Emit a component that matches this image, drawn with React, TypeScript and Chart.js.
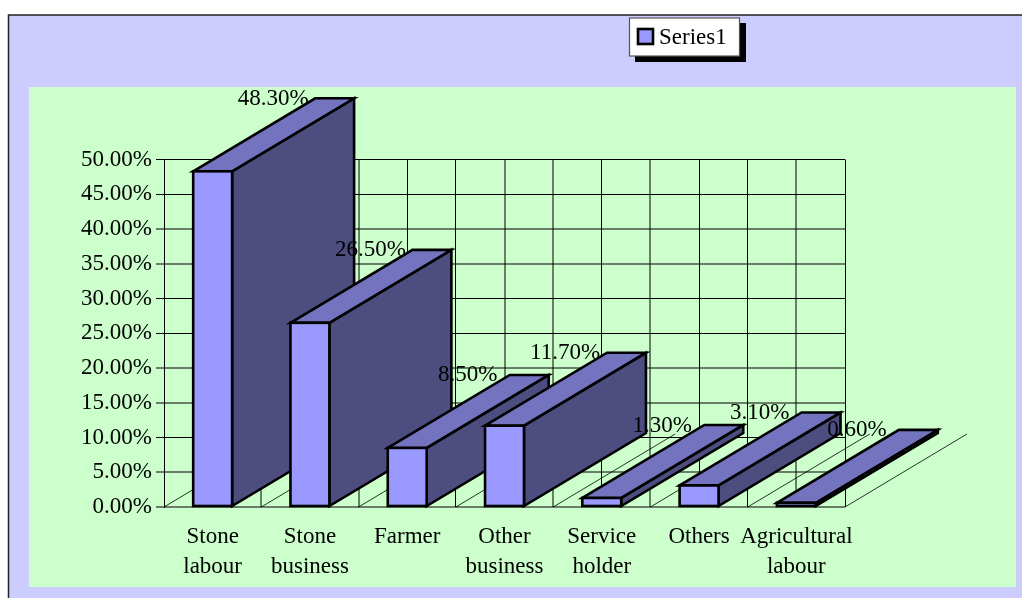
import React, { useEffect, useRef } from "react";
import { Chart, registerables } from "chart.js";

Chart.register(...registerables);

const categories = [
  ["Stone", "labour"],
  ["Stone", "business"],
  "Farmer",
  ["Other", "business"],
  ["Service", "holder"],
  "Others",
  ["Agricultural", "labour"],
];
const seriesName = "Series1";
const seriesValues = [0.483, 0.265, 0.085, 0.117, 0.013, 0.031, 0.006];
const valueLabels = ["48.30%", "26.50%", "8.50%", "11.70%", "1.30%", "3.10%", "0.60%"];

const FONT = '"Liberation Serif", "Times New Roman", serif';
const FONT_SIZE = 23;
const DEPTH_X = 122;
const DEPTH_Y = 73;
const FRONT = "#9999FF";
const TOP = "#7373BF";
const SIDE = "#4D4D80";
const SOFT = "rgba(0,0,0,0.5)";
// grid lines that read as soft two-pixel lines in the reference
const softY = [0, 1, 3, 4, 7, 8];
const softX = [1, 2, 4, 5];
const softCentre = [3, 6];

function poly(ctx: CanvasRenderingContext2D, pts: number[][], fill: string) {
  ctx.beginPath();
  pts.forEach((p, i) => (i ? ctx.lineTo(p[0], p[1]) : ctx.moveTo(p[0], p[1])));
  ctx.closePath();
  ctx.fillStyle = fill;
  ctx.fill();
  ctx.stroke();
}

const frame3d = {
  id: "frame3d",
  beforeDraw(chart: any) {
    const ctx = chart.ctx as CanvasRenderingContext2D;
    ctx.save();
    ctx.fillStyle = "#FFFFFF";
    ctx.fillRect(0, 0, chart.width, chart.height);
    ctx.fillStyle = "#CCCCFF";
    ctx.fillRect(8, 15, chart.width - 8, chart.height - 15);
    ctx.strokeStyle = "#222";
    ctx.lineWidth = 1.5;
    ctx.beginPath();
    ctx.moveTo(8.5, chart.height);
    ctx.lineTo(8.5, 15);
    ctx.lineTo(chart.width, 15);
    ctx.stroke();
    ctx.fillStyle = "#CCFFCC";
    ctx.fillRect(29, 87, 987, 500);
    ctx.restore();
  },
  beforeDatasetsDraw(chart: any) {
    const ctx = chart.ctx as CanvasRenderingContext2D;
    const { left, right, top, bottom } = chart.chartArea;
    const n = categories.length;
    ctx.save();
    // vertical grid lines at each category centre
    for (let i = 0; i < n; i++) {
      const x = chart.scales.x.getPixelForValue(i);
      const soft = softCentre.includes(i);
      const px = soft ? Math.round(x) : Math.floor(x) + 0.5;
      ctx.strokeStyle = soft ? SOFT : "#000";
      ctx.lineWidth = soft ? 2 : 1;
      ctx.beginPath();
      ctx.moveTo(px, top);
      ctx.lineTo(px, bottom);
      ctx.stroke();
    }
    // floor lines running back from each category boundary
    ctx.strokeStyle = "#000";
    ctx.lineWidth = 0.8;
    for (let i = 0; i <= n; i++) {
      const x = left + ((right - left) * i) / n;
      ctx.beginPath();
      ctx.moveTo(x, bottom);
      ctx.lineTo(x + DEPTH_X, bottom - DEPTH_Y);
      ctx.stroke();
    }
    // side and top faces, left to right
    ctx.strokeStyle = "#000";
    ctx.lineWidth = 2.6;
    const bars = chart.getDatasetMeta(0).data;
    bars.forEach((b: any) => {
      const { x, y, base, width } = b.getProps(["x", "y", "base", "width"], true);
      const l = x - width / 2;
      const r = x + width / 2;
      poly(ctx, [[r, y], [r + DEPTH_X, y - DEPTH_Y], [r + DEPTH_X, base - DEPTH_Y], [r, base]], SIDE);
      poly(ctx, [[l, y], [l + DEPTH_X, y - DEPTH_Y], [r + DEPTH_X, y - DEPTH_Y], [r, y]], TOP);
    });
    ctx.restore();
  },
  afterDatasetsDraw(chart: any) {
    const ctx = chart.ctx as CanvasRenderingContext2D;
    ctx.save();
    const bars = chart.getDatasetMeta(0).data;
    // front outlines
    ctx.strokeStyle = "#000";
    ctx.lineWidth = 2.6;
    bars.forEach((b: any) => {
      const { x, y, base, width } = b.getProps(["x", "y", "base", "width"], true);
      ctx.strokeRect(x - width / 2, y, width, base - y);
    });
    // value labels
    ctx.font = `${FONT_SIZE}px ${FONT}`;
    ctx.fillStyle = "#000";
    ctx.textAlign = "center";
    ctx.textBaseline = "middle";
    bars.forEach((b: any, i: number) => {
      const { x, y, width } = b.getProps(["x", "y", "width"], true);
      ctx.fillText(valueLabels[i], x - width / 2 + DEPTH_X - 42, y - DEPTH_Y + 0.5);
    });
    // legend
    ctx.fillStyle = "#000";
    ctx.fillRect(635, 23, 111, 39);
    ctx.fillStyle = "#FFF";
    ctx.fillRect(629.5, 18, 110, 38);
    ctx.strokeStyle = "#555";
    ctx.lineWidth = 1.2;
    ctx.strokeRect(629.5, 18, 110, 38);
    ctx.fillStyle = FRONT;
    ctx.strokeStyle = "#000";
    ctx.lineWidth = 2.6;
    ctx.fillRect(638, 29, 15, 15);
    ctx.strokeRect(638, 29, 15, 15);
    ctx.fillStyle = "#000";
    ctx.textAlign = "left";
    ctx.fillText(chart.data.datasets[0].label, 659, 37.5);
    ctx.restore();
  },
};

export default function App() {
  const ref = useRef<HTMLCanvasElement>(null);
  useEffect(() => {
    const font = { family: FONT, size: FONT_SIZE };
    const chart = new Chart(ref.current!, {
      type: "bar",
      data: {
        labels: categories as any,
        datasets: [
          {
            label: seriesName,
            data: seriesValues,
            backgroundColor: FRONT,
            borderWidth: 0,
            categoryPercentage: 1,
            barPercentage: 0.4,
          },
        ],
      },
      options: {
        responsive: false,
        animation: false,
        layout: { padding: { left: 64, right: 177, top: 159.5, bottom: 11 } },
        plugins: { legend: { display: false }, tooltip: { enabled: false } },
        scales: {
          x: {
            afterFit: (s: any) => { s.height = 80; },
            border: { display: false },
            grid: {
              color: (c: any) => (softX.includes(c.index) ? SOFT : "#000"),
              lineWidth: (c: any) => (softX.includes(c.index) ? 2 : 1),
              drawTicks: false,
            },
            ticks: {
              color: "#000",
              font: { ...font, lineHeight: 30 / FONT_SIZE },
              padding: 14.5,
              maxRotation: 0,
              minRotation: 0,
              autoSkip: false,
            },
          },
          y: {
            min: 0,
            max: 0.5,
            afterFit: (s: any) => { s.width = 100; },
            border: { color: "#000", width: 1 },
            grid: {
              color: (c: any) => (softY.includes(c.index) ? SOFT : "#000"),
              lineWidth: (c: any) => (softY.includes(c.index) ? 2 : 1),
              tickLength: 8,
            },
            ticks: {
              stepSize: 0.05,
              color: "#000",
              font,
              padding: 4,
              callback: (v: any) => (Number(v) * 100).toFixed(2) + "%",
            },
          },
        },
      },
      plugins: [frame3d],
    } as any);
    return () => chart.destroy();
  }, []);
  return (
    <div style={{ position: "absolute", left: 0, top: 0, width: 1022, height: 598 }}>
      <canvas ref={ref} width={1022} height={598} style={{ display: "block" }} />
    </div>
  );
}
